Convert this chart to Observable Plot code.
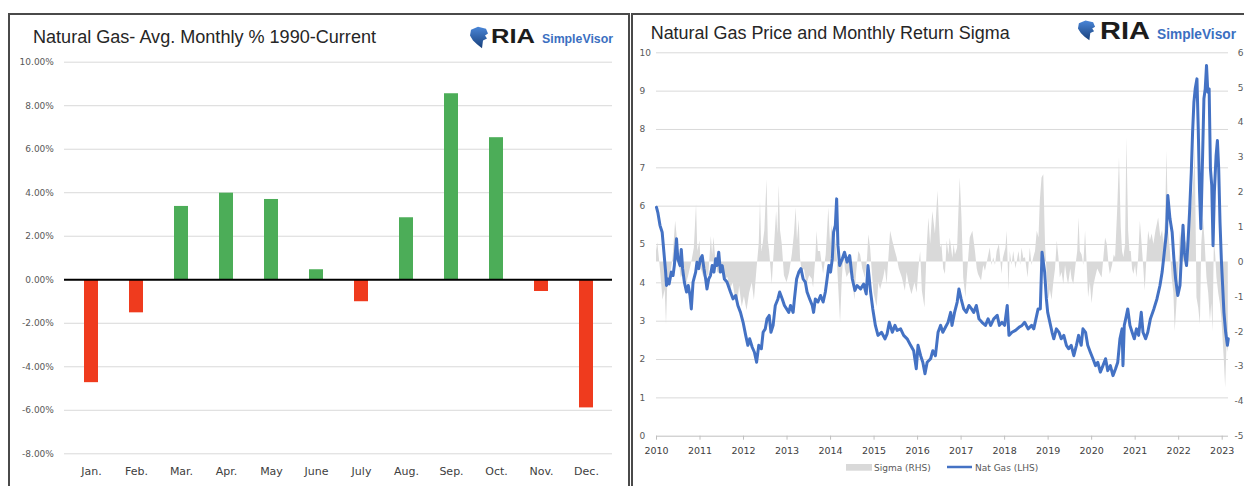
<!DOCTYPE html>
<html><head><meta charset="utf-8">
<script src="https://cdn.jsdelivr.net/npm/d3@7"></script>
<script src="https://cdn.jsdelivr.net/npm/@observablehq/plot@0.6"></script>
<style>
html,body{margin:0;padding:0;background:#fff;overflow:hidden;}
#page{position:relative;width:1244px;height:486px;overflow:hidden;background:#fff;}
.panel{position:absolute;box-sizing:border-box;border:2px solid #4a4a4a;border-bottom:none;}
#lp{left:8px;top:13px;width:622px;height:480px;}
#rp{left:631px;top:13px;width:640px;height:480px;border-right:none;}
.chart{position:absolute;top:0;}
#lc{left:0;width:630px;height:486px;}
#rc{left:632px;width:612px;height:486px;}
#overlay{position:absolute;left:0;top:0;}
</style></head>
<body>
<div id="page">
  <div class="panel" id="lp"></div>
  <div class="panel" id="rp"></div>
  <div class="chart" id="lc"></div>
  <div class="chart" id="rc"></div>
  <svg id="overlay" width="1244" height="486"></svg>
</div>
<script>
// ---------- Left chart data ----------
const months = ["Jan.","Feb.","Mar.","Apr.","May","June","July","Aug.","Sep.","Oct.","Nov.","Dec."];
const avgReturn = [-4.73,-1.52,3.37,3.98,3.69,0.46,-1.01,2.85,8.55,6.53,-0.54,-5.89];
const pctTicks = [-8,-6,-4,-2,0,2,4,6,8,10];

// ---------- Right chart data ----------
const priceTicks = [0,1,2,3,4,5,6,7,8,9,10];
const sigmaTicks = [-5,-4,-3,-2,-1,0,1,2,3,4,5,6];
const yearTicks = [2010,2011,2012,2013,2014,2015,2016,2017,2018,2019,2020,2021,2022,2023];

const natGas = [
[2010.00,5.97],[2010.03,5.84],[2010.08,5.50],[2010.13,5.32],[2010.17,4.80],[2010.21,4.28],[2010.23,3.93],[2010.26,4.10],[2010.29,3.97],[2010.34,4.28],
[2010.38,4.19],[2010.41,4.45],[2010.46,5.15],[2010.49,4.63],[2010.54,4.45],[2010.57,4.87],[2010.60,4.37],[2010.64,4.02],[2010.69,3.76],[2010.73,3.93],
[2010.77,3.67],[2010.80,3.32],[2010.84,4.02],[2010.90,4.28],[2010.93,4.54],[2010.97,4.37],[2011.01,4.63],[2011.05,4.71],[2011.09,4.37],[2011.13,4.10],
[2011.16,3.84],[2011.20,4.10],[2011.24,4.19],[2011.28,4.45],[2011.32,4.28],[2011.36,4.63],[2011.39,4.45],[2011.43,4.80],[2011.47,4.28],[2011.51,4.45],
[2011.56,4.10],[2011.62,4.02],[2011.70,3.76],[2011.76,3.58],[2011.82,3.67],[2011.87,3.41],[2011.93,3.23],[2011.99,2.97],[2012.05,2.63],[2012.10,2.37],
[2012.14,2.54],[2012.20,2.32],[2012.25,2.19],[2012.30,1.93],[2012.35,2.37],[2012.41,2.28],[2012.45,2.71],[2012.50,2.80],[2012.54,3.06],[2012.59,3.15],
[2012.63,2.71],[2012.68,2.89],[2012.73,3.41],[2012.79,3.58],[2012.83,3.76],[2012.89,3.58],[2012.94,3.41],[2012.99,3.32],[2013.04,3.23],[2013.08,3.41],
[2013.14,3.23],[2013.17,3.58],[2013.22,4.10],[2013.27,4.28],[2013.32,4.37],[2013.37,4.10],[2013.42,4.02],[2013.46,3.76],[2013.52,3.58],[2013.58,3.41],
[2013.61,3.23],[2013.65,3.58],[2013.71,3.50],[2013.77,3.67],[2013.83,3.50],[2013.88,3.76],[2013.92,4.10],[2013.96,4.45],[2014.00,4.28],[2014.04,4.63],
[2014.07,5.32],[2014.11,5.50],[2014.14,6.19],[2014.17,4.97],[2014.21,4.45],[2014.27,4.63],[2014.32,4.80],[2014.38,4.54],[2014.44,4.71],[2014.50,4.10],
[2014.56,3.80],[2014.61,3.93],[2014.69,3.84],[2014.76,3.97],[2014.82,3.71],[2014.86,4.45],[2014.92,3.76],[2014.97,3.32],[2015.03,2.89],[2015.09,2.63],
[2015.17,2.71],[2015.25,2.54],[2015.30,2.67],[2015.35,2.97],[2015.42,2.71],[2015.48,2.89],[2015.53,2.76],[2015.61,2.80],[2015.68,2.63],[2015.76,2.54],
[2015.84,2.37],[2015.91,2.23],[2015.97,1.76],[2016.01,2.37],[2016.07,2.10],[2016.12,1.93],[2016.17,1.63],[2016.22,1.93],[2016.30,2.02],[2016.35,2.23],
[2016.41,2.10],[2016.47,2.71],[2016.53,2.89],[2016.58,2.71],[2016.64,2.84],[2016.70,2.97],[2016.76,3.23],[2016.79,2.89],[2016.85,3.23],[2016.91,3.50],
[2016.95,3.84],[2017.00,3.58],[2017.06,3.32],[2017.12,3.23],[2017.18,3.41],[2017.24,3.32],[2017.29,3.23],[2017.35,3.41],[2017.41,3.06],[2017.48,2.97],
[2017.56,2.89],[2017.62,3.06],[2017.68,2.89],[2017.75,3.06],[2017.83,3.15],[2017.88,2.89],[2017.94,2.97],[2018.00,2.89],[2018.06,3.41],[2018.10,2.63],
[2018.17,2.71],[2018.25,2.76],[2018.33,2.84],[2018.40,2.89],[2018.46,2.97],[2018.54,2.80],[2018.62,2.89],[2018.67,2.80],[2018.72,3.06],[2018.77,3.32],
[2018.82,3.32],[2018.86,4.80],[2018.92,4.28],[2018.96,3.58],[2018.99,3.23],[2019.04,2.97],[2019.09,2.71],[2019.13,2.54],[2019.19,2.80],[2019.25,2.71],
[2019.30,2.54],[2019.36,2.63],[2019.42,2.37],[2019.47,2.28],[2019.53,2.37],[2019.59,2.10],[2019.65,2.37],[2019.70,2.63],[2019.76,2.37],[2019.80,2.80],
[2019.86,2.71],[2019.91,2.37],[2019.97,2.19],[2020.03,2.02],[2020.09,1.84],[2020.14,1.93],[2020.20,1.67],[2020.26,1.84],[2020.32,2.02],[2020.37,1.71],
[2020.43,1.84],[2020.49,1.58],[2020.55,1.76],[2020.60,1.93],[2020.65,2.54],[2020.70,2.80],[2020.72,1.84],[2020.75,2.89],[2020.80,3.15],[2020.83,3.32],
[2020.88,2.89],[2020.93,2.71],[2020.98,2.54],[2021.03,2.80],[2021.08,2.63],[2021.14,3.23],[2021.18,2.71],[2021.24,2.54],[2021.29,2.71],[2021.35,3.06],
[2021.43,3.32],[2021.50,3.58],[2021.57,3.93],[2021.62,4.28],[2021.67,4.80],[2021.72,5.32],[2021.75,6.28],[2021.80,5.67],[2021.85,5.32],[2021.89,4.63],
[2021.93,4.10],[2021.98,3.67],[2022.03,3.93],[2022.06,4.63],[2022.10,5.50],[2022.13,4.80],[2022.18,4.45],[2022.21,4.97],[2022.25,5.84],[2022.29,6.89],
[2022.32,7.93],[2022.35,8.71],[2022.38,9.06],[2022.42,9.32],[2022.45,8.02],[2022.48,6.37],[2022.51,5.41],[2022.55,7.32],[2022.58,8.80],[2022.61,9.06],
[2022.64,9.67],[2022.67,8.97],[2022.70,9.06],[2022.73,6.97],[2022.76,6.54],[2022.79,4.97],[2022.82,6.37],[2022.86,7.32],[2022.89,7.71],[2022.92,6.97],
[2022.95,5.58],[2022.98,4.63],[2023.01,3.93],[2023.04,3.23],[2023.08,2.71],[2023.12,2.37],[2023.14,2.54]
];

const sigma = [
[2010.00,0.3],[2010.03,0.55],[2010.09,-0.2],[2010.15,-1.1],[2010.20,-0.8],[2010.23,-1.8],[2010.26,-0.6],[2010.32,-0.4],[2010.38,0.1],[2010.44,1.17],
[2010.47,0.8],[2010.51,0.1],[2010.57,-0.46],[2010.63,-0.3],[2010.69,-0.65],[2010.74,-0.4],[2010.82,0.05],[2010.87,0.4],[2010.92,1.65],[2010.95,0.3],
[2011.00,0.6],[2011.03,-0.2],[2011.09,-0.45],[2011.15,-0.3],[2011.20,-0.45],[2011.26,0.74],[2011.29,0.2],[2011.32,0.7],[2011.36,0.1],[2011.41,-0.3],
[2011.47,-0.35],[2011.53,-0.2],[2011.58,-0.5],[2011.64,-0.45],[2011.70,-0.8],[2011.76,-0.6],[2011.81,-1.0],[2011.87,-1.2],[2011.91,-0.7],[2011.97,-1.3],
[2012.02,-1.0],[2012.08,-1.4],[2012.14,-0.9],[2012.20,-0.6],[2012.25,-1.1],[2012.31,-0.2],[2012.36,0.5],[2012.39,1.74],[2012.42,0.3],[2012.45,0.5],
[2012.49,0.9],[2012.54,2.36],[2012.57,0.6],[2012.60,0.3],[2012.66,-0.65],[2012.70,0.2],[2012.76,1.45],[2012.79,0.8],[2012.82,2.2],[2012.85,0.9],
[2012.89,0.5],[2012.94,-0.4],[2013.00,-0.6],[2013.06,-0.3],[2013.12,0.2],[2013.17,0.8],[2013.21,1.55],[2013.24,0.6],[2013.28,1.2],[2013.31,0.1],
[2013.35,-0.3],[2013.40,-0.2],[2013.46,-0.65],[2013.52,-0.4],[2013.58,-0.5],[2013.61,-0.75],[2013.66,0.1],[2013.69,0.88],[2013.72,0.3],[2013.77,0.3],
[2013.81,-0.1],[2013.84,-0.35],[2013.90,0.2],[2013.96,1.55],[2014.00,0.5],[2014.04,1.07],[2014.07,0.4],[2014.11,0.7],[2014.15,0.2],[2014.19,-0.8],
[2014.23,-1.75],[2014.27,-0.5],[2014.31,0.3],[2014.34,-0.2],[2014.38,-0.45],[2014.44,-0.3],[2014.50,-0.45],[2014.56,-1.1],[2014.60,-0.3],[2014.65,0.3],
[2014.69,0.2],[2014.74,-0.2],[2014.80,-0.46],[2014.85,0.1],[2014.88,0.78],[2014.92,0.4],[2014.96,-0.3],[2015.00,-0.9],[2015.07,-1.3],[2015.11,-0.6],
[2015.15,-0.8],[2015.22,-0.46],[2015.26,-0.2],[2015.30,-0.65],[2015.34,0.1],[2015.38,0.88],[2015.43,0.6],[2015.49,0.3],[2015.53,0.12],[2015.58,-0.2],
[2015.65,-0.46],[2015.72,-0.84],[2015.76,-0.3],[2015.80,-0.6],[2015.87,-0.94],[2015.94,-0.6],[2015.99,-0.9],[2016.03,-0.2],[2016.07,0.3],[2016.11,-0.84],
[2016.17,-1.32],[2016.20,-0.3],[2016.22,0.4],[2016.26,1.26],[2016.30,0.5],[2016.35,1.45],[2016.41,0.8],[2016.47,2.03],[2016.50,1.16],[2016.53,0.4],
[2016.56,0.5],[2016.60,-0.2],[2016.64,-0.36],[2016.68,0.6],[2016.72,0.2],[2016.75,0.69],[2016.81,0.1],[2016.84,0.5],[2016.87,0.2],[2016.92,0.4],
[2016.95,1.45],[2016.98,2.41],[2017.02,1.26],[2017.06,-0.46],[2017.11,-1.03],[2017.15,-0.3],[2017.21,0.69],[2017.27,0.88],[2017.33,0.3],[2017.37,-0.2],
[2017.40,-0.36],[2017.47,-0.55],[2017.52,-0.1],[2017.56,-0.27],[2017.62,0.1],[2017.67,0.4],[2017.71,-0.1],[2017.75,0.12],[2017.79,-0.1],[2017.83,0.3],
[2017.88,0.5],[2017.94,-0.36],[2017.97,0.1],[2018.03,0.4],[2018.06,0.88],[2018.10,-0.84],[2018.13,0.3],[2018.17,-0.1],[2018.21,0.3],[2018.26,-0.2],
[2018.33,0.3],[2018.37,-0.1],[2018.40,0.4],[2018.44,0.1],[2018.48,0.12],[2018.54,-0.46],[2018.59,0.4],[2018.63,-0.1],[2018.67,0.12],[2018.71,0.3],
[2018.75,0.88],[2018.79,0.69],[2018.82,1.74],[2018.86,2.41],[2018.90,2.5],[2018.94,0.5],[2018.99,-0.6],[2019.02,-1.1],[2019.05,-0.8],[2019.09,-1.1],
[2019.13,-0.6],[2019.17,-0.2],[2019.21,0.6],[2019.25,0.1],[2019.28,-0.46],[2019.32,-0.3],[2019.36,-0.65],[2019.40,-0.1],[2019.44,-0.46],[2019.47,-0.65],
[2019.52,-0.2],[2019.55,-0.5],[2019.59,-0.65],[2019.64,-0.1],[2019.68,0.3],[2019.71,1.26],[2019.74,0.3],[2019.78,0.2],[2019.82,-0.1],[2019.86,0.88],
[2019.89,0.1],[2019.93,-1.03],[2019.97,-0.6],[2020.01,-1.2],[2020.05,-0.7],[2020.09,-0.46],[2020.14,-0.2],[2020.20,-0.36],[2020.24,-0.46],[2020.28,0.1],
[2020.32,0.69],[2020.36,0.5],[2020.40,-0.1],[2020.43,-0.36],[2020.48,-0.1],[2020.52,0.2],[2020.55,0.12],[2020.60,1.55],[2020.64,2.99],[2020.68,1.0],
[2020.71,0.3],[2020.74,0.12],[2020.78,0.5],[2020.81,3.56],[2020.85,0.88],[2020.88,0.3],[2020.91,0.3],[2020.94,-0.2],[2020.97,-0.36],[2021.01,-0.1],
[2021.04,-0.46],[2021.08,0.1],[2021.12,1.17],[2021.16,0.5],[2021.20,-0.2],[2021.23,-0.84],[2021.27,0.1],[2021.31,0.88],[2021.35,0.6],[2021.39,0.8],
[2021.43,0.5],[2021.48,0.9],[2021.54,1.26],[2021.59,0.7],[2021.63,0.9],[2021.66,0.5],[2021.70,1.2],[2021.73,3.18],[2021.77,0.88],[2021.81,0.3],
[2021.85,-0.46],[2021.89,-0.9],[2021.92,-2.0],[2021.96,-1.2],[2022.00,-0.3],[2022.04,0.88],[2022.08,0.5],[2022.12,1.07],[2022.16,0.6],[2022.19,0.5],
[2022.23,0.9],[2022.27,1.26],[2022.30,1.6],[2022.33,2.03],[2022.36,2.6],[2022.38,3.37],[2022.40,1.2],[2022.42,-1.03],[2022.46,-1.32],[2022.50,-1.8],
[2022.53,0.5],[2022.57,1.26],[2022.61,0.5],[2022.65,-0.46],[2022.69,-0.9],[2022.73,-1.7],[2022.76,-1.2],[2022.79,-2.0],[2022.82,0.6],[2022.85,0.2],
[2022.88,-0.46],[2022.92,-0.9],[2022.96,-1.22],[2022.99,-1.6],[2023.02,-2.2],[2023.05,-2.85],[2023.08,-3.62],[2023.11,-2.4],[2023.14,-2.6]
];

// map right-axis (sigma) values onto the left price scale: [-5,6] -> [0,10]
const sigToPrice = s => (s + 5) * 10 / 11;

// ---------- Left chart ----------
const monthly = months.map((m, i) => ({month: m, value: avgReturn[i]}));
const leftChart = Plot.plot({
  width: 630, height: 486,
  marginLeft: 64, marginRight: 18, marginTop: 61.7, marginBottom: 32.7,
  style: {background: "transparent", fontFamily: "DejaVu Sans"},
  x: {type: "band", domain: months, paddingInner: 0.69, paddingOuter: 0.345, label: null},
  y: {domain: [-8, 10], label: null},
  color: {type: "identity"},
  marks: [
    Plot.ruleY(pctTicks, {stroke: "#d9d9d9", strokeWidth: 1}),
    Plot.barY(monthly, {x: "month", y: "value", fill: d => d.value >= 0 ? "#4cad58" : "#ef3b1e"}),
    Plot.ruleY([0], {stroke: "#000", strokeWidth: 2}),
    Plot.axisY({ticks: pctTicks, tickSize: 0, tickPadding: 10.6, fontSize: 9, fill: "#595959",
      tickFormat: d => d.toFixed(2) + "%"}),
    Plot.axisX({tickSize: 0, tickPadding: 13.4, fontSize: 11, fill: "#404040"})
  ]
});
document.getElementById("lc").appendChild(leftChart);

// ---------- Right chart ----------
const rightChart = Plot.plot({
  width: 612, height: 486,
  marginLeft: 24, marginRight: 16, marginTop: 52.3, marginBottom: 50.3,
  style: {background: "transparent", fontFamily: "DejaVu Sans"},
  x: {domain: [2010, 2023.145], label: null},
  y: {domain: [0, 10], label: null},
  marks: [
    Plot.ruleY(priceTicks.filter(d => d > 0), {stroke: "#d9d9d9", strokeWidth: 1}),
    Plot.areaY(sigma, {x: d => d[0], y1: sigToPrice(0), y2: d => sigToPrice(d[1]), fill: "#d9d9d9", curve: "linear"}),
    Plot.ruleY([0], {stroke: "#bfbfbf", strokeWidth: 1}),
    Plot.lineY(natGas, {x: d => d[0], y: d => d[1], stroke: "#4472c4", strokeWidth: 3, strokeLinejoin: "round"}),
    Plot.axisY({ticks: priceTicks, anchor: "left", tickSize: 0, tickPadding: 17, textAnchor: "start",
      fontSize: 9, fill: "#595959", tickFormat: d => String(d)}),
    Plot.axisY({ticks: sigmaTicks.map(sigToPrice), anchor: "right", tickSize: 0, tickPadding: 15, textAnchor: "end",
      fontSize: 9, fill: "#595959", tickFormat: p => String(Math.round(p * 11 / 10 - 5))}),
    Plot.axisX({ticks: yearTicks, tickSize: 4, tickPadding: 7, fontSize: 9.5, stroke: "#bfbfbf",
      fill: "#404040", tickFormat: d => String(d)})
  ]
});
document.getElementById("rc").appendChild(rightChart);

// ---------- Titles, logos, legend ----------
const icon = "M2,3 L9,0 L17,2 L19,7 L16,9 L18,12 L14,14 L13,22 L8,18 L4,14 L1,9 Z";
document.getElementById("overlay").innerHTML = `
<defs><linearGradient id="lg" x1="0" y1="0" x2="0" y2="1">
<stop offset="0" stop-color="#4a86d8"/><stop offset="1" stop-color="#173f7a"/></linearGradient></defs>
<g font-family="Liberation Sans, Arial, sans-serif">
<text x="33" y="43.3" font-size="17.5" fill="#262626" textLength="343" lengthAdjust="spacingAndGlyphs">Natural Gas- Avg. Monthly % 1990-Current</text>
<path d="${icon}" transform="translate(469,26.7) scale(1,0.98)" fill="url(#lg)"/>
<text x="491" y="42.7" font-size="21" font-weight="bold" fill="#1c1c1c" textLength="44" lengthAdjust="spacingAndGlyphs">RIA</text>
<text x="542" y="42.7" font-size="13.5" font-weight="bold" fill="#3b6fc1" textLength="71" lengthAdjust="spacingAndGlyphs">SimpleVisor</text>
<text x="650.7" y="39.3" font-size="17.5" fill="#262626" textLength="359" lengthAdjust="spacingAndGlyphs">Natural Gas Price and Monthly Return Sigma</text>
<path d="${icon}" transform="translate(1077,20.5) scale(0.95,0.9)" fill="url(#lg)"/>
<text x="1100" y="39.3" font-size="24" font-weight="bold" fill="#1c1c1c" textLength="50" lengthAdjust="spacingAndGlyphs">RIA</text>
<text x="1157" y="39.3" font-size="14" font-weight="bold" fill="#3b6fc1" textLength="79" lengthAdjust="spacingAndGlyphs">SimpleVisor</text>
</g>
<g font-family="DejaVu Sans, sans-serif" font-size="9" fill="#595959">
<rect x="846" y="464" width="26" height="6.7" fill="#d9d9d9"/>
<text x="874" y="470.7">Sigma (RHS)</text>
<line x1="947" x2="972" y1="467" y2="467" stroke="#4472c4" stroke-width="2.5"/>
<text x="975" y="470.7">Nat Gas (LHS)</text>
</g>`;
</script>
</body></html>
